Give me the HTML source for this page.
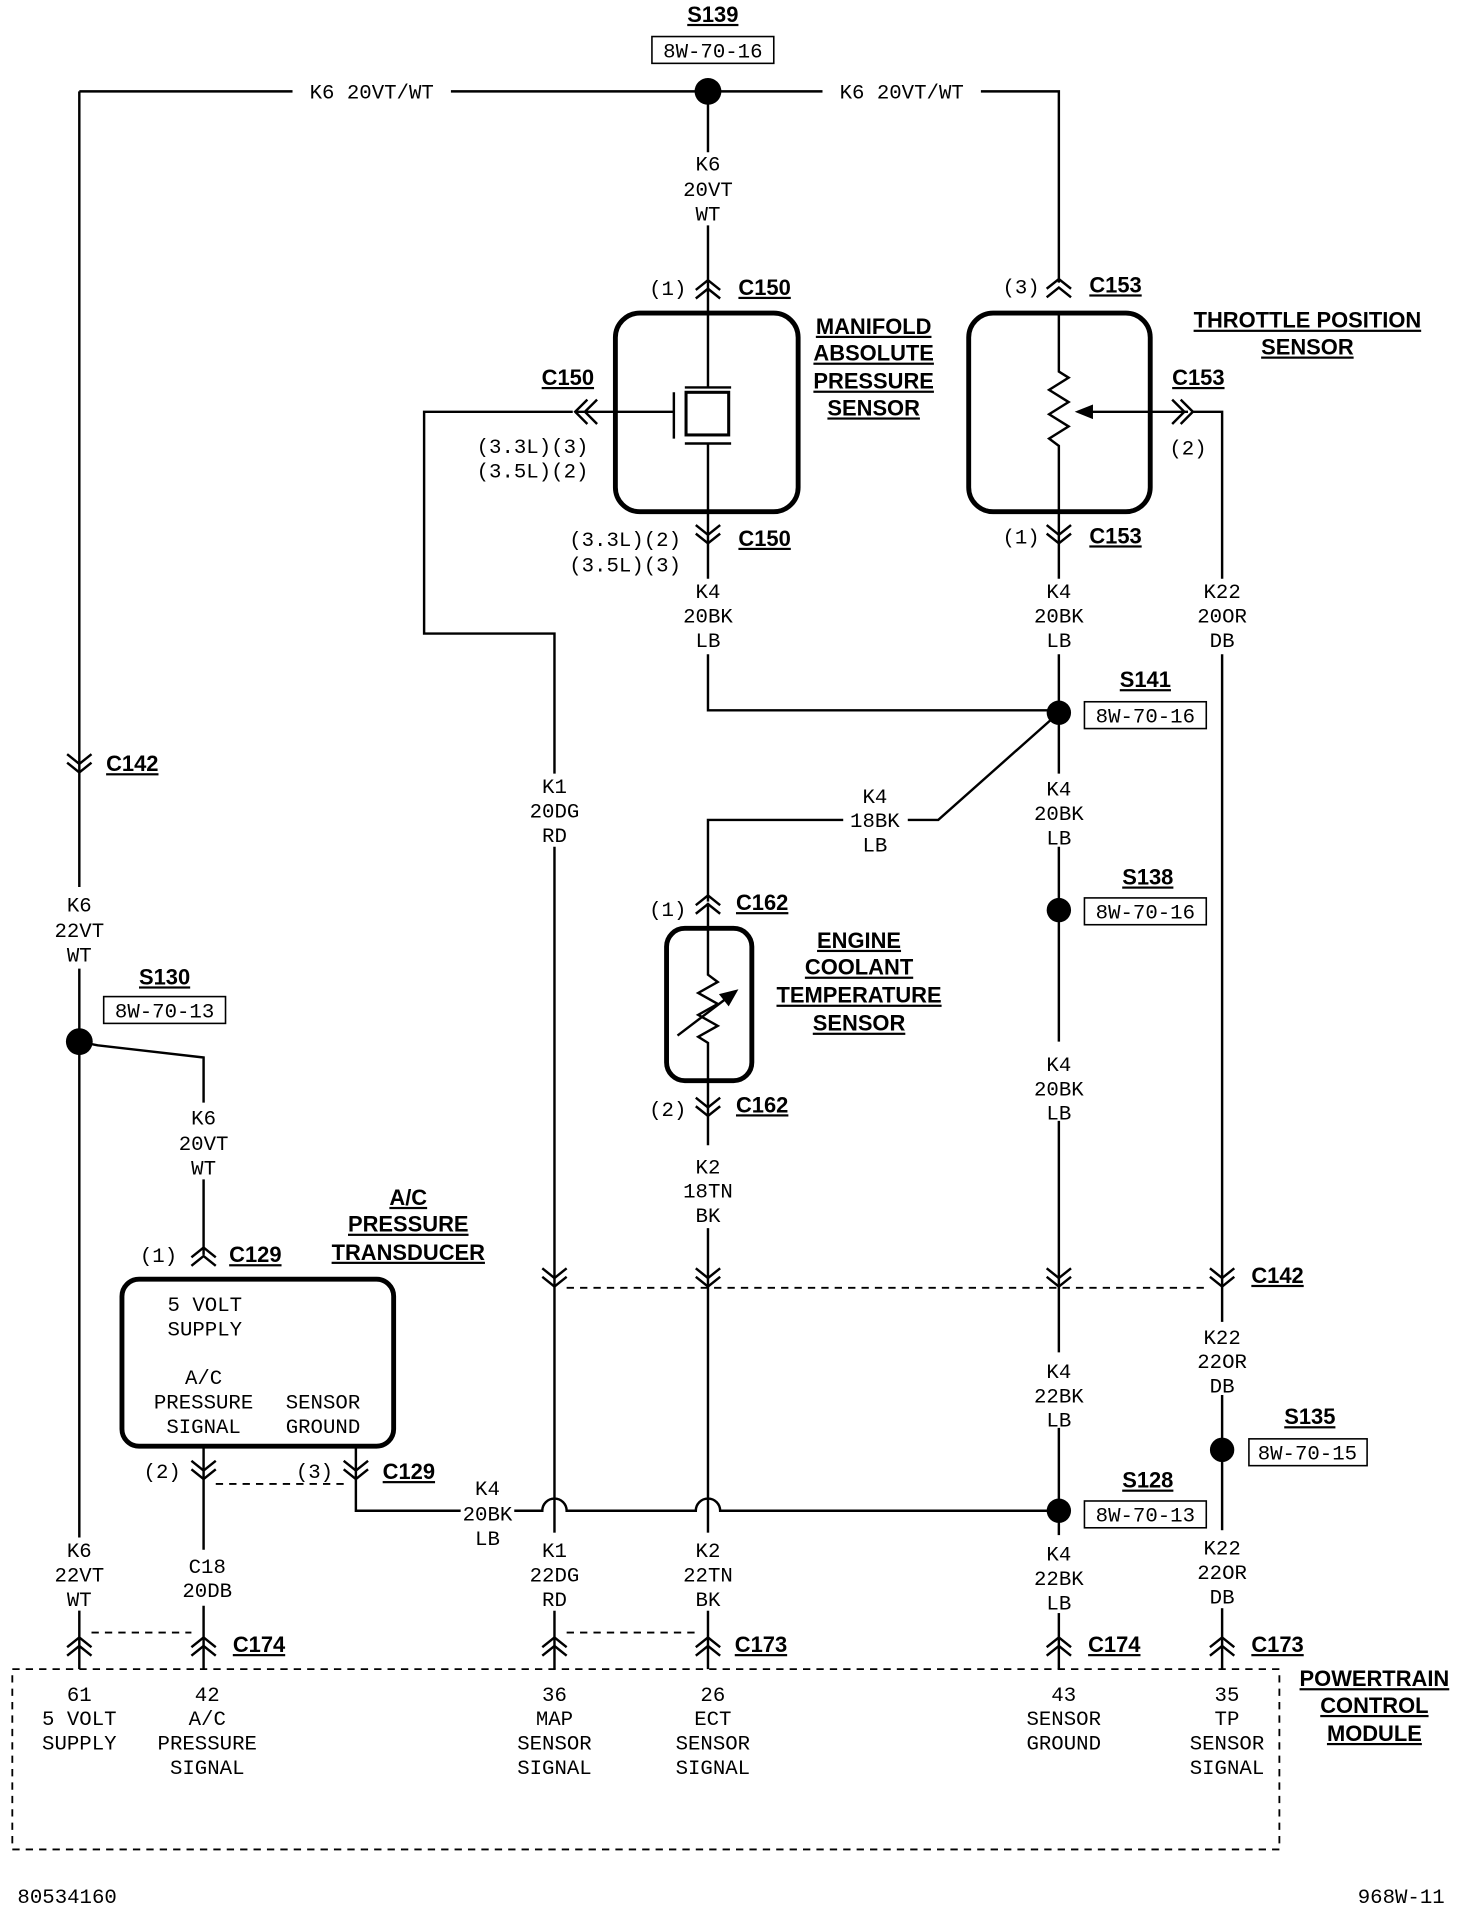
<!DOCTYPE html>
<html><head><meta charset="utf-8"><style>
html,body{margin:0;padding:0;background:#fff}
svg{display:block}
.t{font-family:"Liberation Mono",monospace;font-size:17px;fill:#000;text-anchor:middle}
.b{font-family:"Liberation Sans",sans-serif;font-weight:bold;font-size:18px;fill:#000;text-decoration:underline}
.bm{text-anchor:middle}
.w{stroke:#000;stroke-width:2;fill:none}
.k{stroke:#000;stroke-width:4;fill:none}
.d{stroke:#000;stroke-width:1.5;fill:none;stroke-dasharray:6,5}
.bx{fill:#fff;stroke:#000;stroke-width:1.3}
</style></head><body>
<svg width="1472" height="1914" viewBox="0 0 1208 1571" xmlns="http://www.w3.org/2000/svg">
<defs>
<path id="up" d="M-10,2 L0,-6 L10,2 M-10,9 L0,1 L10,9" stroke="#000" stroke-width="2" fill="none"/>
<path id="dn" d="M-10,-9 L0,-1 L10,-9 M-10,-2 L0,6 L10,-2" stroke="#000" stroke-width="2" fill="none"/>
</defs>

<!-- top wire -->
<path class="w" d="M65,75 H240 M370,75 H580 H675 M805,75 H869 V232"/>
<text class="t" x="305" y="81">K6 20VT/WT</text>
<text class="t" x="740" y="81">K6 20VT/WT</text>
<circle cx="581" cy="75" r="11"/>
<text class="b bm" x="585" y="18">S139</text>
<rect class="bx" x="535" y="30" width="100" height="22"/>
<text class="t" x="585" y="47">8W-70-16</text>

<!-- left wire -->
<path class="w" d="M65,75 V728 M65,795 V1262 M65,1322 V1370"/>
<use href="#dn" x="65" y="628"/>
<text class="b" x="87" y="633">C142</text>
<text class="t" x="65" y="748">K6</text><text class="t" x="65" y="769">22VT</text><text class="t" x="65" y="789">WT</text>
<circle cx="65" cy="855" r="11"/>
<text class="b bm" x="135" y="808">S130</text>
<rect class="bx" x="85" y="818" width="100" height="22"/>
<text class="t" x="135" y="835">8W-70-13</text>
<path class="w" d="M65,855 L80,858 L167,868 V905 M167,968 V1030"/>
<text class="t" x="167" y="923">K6</text><text class="t" x="167" y="944">20VT</text><text class="t" x="167" y="964">WT</text>
<use href="#up" x="167" y="1030"/>
<text class="t" x="130" y="1036">(1)</text>
<text class="b" x="188" y="1036">C129</text>
<text class="b bm" x="335" y="989">A/C</text>
<text class="b bm" x="335" y="1011">PRESSURE</text>
<text class="b bm" x="335" y="1034">TRANSDUCER</text>
<rect class="k" x="100" y="1050" width="223" height="137" rx="14"/>
<text class="t" x="168" y="1076">5 VOLT</text><text class="t" x="168" y="1096">SUPPLY</text>
<text class="t" x="167" y="1136">A/C</text><text class="t" x="167" y="1156">PRESSURE</text><text class="t" x="167" y="1176">SIGNAL</text>
<text class="t" x="265" y="1156">SENSOR</text><text class="t" x="265" y="1176">GROUND</text>
<path class="w" d="M167,1187 V1272 M167,1318 V1370 M292,1187 V1240 H378 M422,1240 H445 A10,10 0 0 1 465,1240 H571 A10,10 0 0 1 591,1240 H869"/>
<use href="#dn" x="167" y="1208"/><use href="#dn" x="292" y="1208"/>
<path class="d" d="M177,1218 H282"/>
<text class="t" x="133" y="1213">(2)</text><text class="t" x="258" y="1213">(3)</text>
<text class="b" x="314" y="1214">C129</text>
<text class="t" x="400" y="1227">K4</text><text class="t" x="400" y="1248">20BK</text><text class="t" x="400" y="1268">LB</text>
<text class="t" x="170" y="1291">C18</text><text class="t" x="170" y="1311">20DB</text>
<text class="t" x="65" y="1278">K6</text><text class="t" x="65" y="1298">22VT</text><text class="t" x="65" y="1318">WT</text>

<!-- MAP -->
<path class="w" d="M581,75 V125 M581,185 V318"/>
<text class="t" x="581" y="140">K6</text><text class="t" x="581" y="161">20VT</text><text class="t" x="581" y="181">WT</text>
<use href="#up" x="581" y="236"/>
<text class="t" x="548" y="242">(1)</text>
<text class="b" x="606" y="242">C150</text>
<rect class="k" x="505" y="257" width="150" height="163" rx="20"/>
<path class="w" d="M562,318 H600 M562,364 H600 M553,322 V360"/>
<rect x="563" y="322" width="35" height="35" fill="none" stroke="#000" stroke-width="2.5"/>
<path class="w" d="M581,364 V475"/>
<path class="w" d="M553,338 H472 M482,328 L472,338 L482,348 M490,328 L480,338 L490,348"/>
<text class="b bm" x="466" y="316">C150</text>
<text class="t" x="437" y="372">(3.3L)(3)</text><text class="t" x="437" y="392">(3.5L)(2)</text>
<path class="w" d="M470,338 H348 V520 H455 V635 M455,695 V1262 M455,1322 V1370"/>
<text class="b bm" x="717" y="274">MANIFOLD</text>
<text class="b bm" x="717" y="296">ABSOLUTE</text>
<text class="b bm" x="717" y="319">PRESSURE</text>
<text class="b bm" x="717" y="341">SENSOR</text>
<use href="#dn" x="581" y="440"/>
<text class="t" x="513" y="448">(3.3L)(2)</text><text class="t" x="513" y="469">(3.5L)(3)</text>
<text class="b" x="606" y="448">C150</text>
<text class="t" x="581" y="491">K4</text><text class="t" x="581" y="511">20BK</text><text class="t" x="581" y="531">LB</text>
<text class="t" x="455" y="651">K1</text><text class="t" x="455" y="671">20DG</text><text class="t" x="455" y="691">RD</text>
<path class="w" d="M581,537 V583 H869"/>

<!-- TPS -->
<use href="#up" x="869" y="235"/>
<text class="t" x="838" y="241">(3)</text>
<text class="b" x="894" y="240">C153</text>
<rect class="k" x="795" y="257" width="149" height="163" rx="20"/>
<path class="w" d="M869,257 V305 L877,310 L861,320 L877,330 L861,340 L877,350 L861,360 L869,366 V475"/>
<path class="w" d="M975,338 H895"/>
<path d="M882,338 L897,332 L897,344 Z"/>
<path class="w" d="M962,328 L972,338 L962,348 M969,328 L979,338 L969,348"/>
<text class="b" x="962" y="316">C153</text>
<text class="t" x="975" y="373">(2)</text>
<path class="w" d="M979,338 H1003 V475 M1003,537 V1370"/>
<text class="b bm" x="1073" y="269">THROTTLE POSITION</text>
<text class="b bm" x="1073" y="291">SENSOR</text>
<use href="#dn" x="869" y="440"/>
<text class="t" x="838" y="446">(1)</text>
<text class="b" x="894" y="446">C153</text>
<text class="t" x="869" y="491">K4</text><text class="t" x="869" y="511">20BK</text><text class="t" x="869" y="531">LB</text>
<text class="t" x="1003" y="491">K22</text><text class="t" x="1003" y="511">20OR</text><text class="t" x="1003" y="531">DB</text>
<path class="w" d="M869,537 V635 M869,695 V855 M869,920 V1110 M869,1172 V1262 M869,1322 V1370"/>
<circle cx="869" cy="585" r="10"/>
<text class="b bm" x="940" y="564">S141</text>
<rect class="bx" x="890" y="576" width="100" height="22"/>
<text class="t" x="940" y="593">8W-70-16</text>
<text class="t" x="869" y="653">K4</text><text class="t" x="869" y="673">20BK</text><text class="t" x="869" y="693">LB</text>
<circle cx="869" cy="747" r="10"/>
<text class="b bm" x="942" y="726">S138</text>
<rect class="bx" x="890" y="737" width="100" height="22"/>
<text class="t" x="940" y="754">8W-70-16</text>
<text class="t" x="869" y="879">K4</text><text class="t" x="869" y="899">20BK</text><text class="t" x="869" y="919">LB</text>

<!-- ECT -->
<path class="w" d="M869,585 L770,673 H745 M692,673 H581 V740"/>
<text class="t" x="718" y="659">K4</text><text class="t" x="718" y="679">18BK</text><text class="t" x="718" y="699">LB</text>
<use href="#up" x="581" y="741"/>
<text class="t" x="548" y="752">(1)</text>
<text class="b" x="604" y="747">C162</text>
<rect class="k" x="547" y="762" width="70" height="125" rx="15"/>
<path class="w" d="M581,741 V800 L589,806 L573,815 L589,824 L573,833 L589,842 L573,851 L581,856 V940"/>
<path class="w" d="M556,850 L598,818"/>
<path d="M606,812 L590,816 L598,826 Z"/>
<text class="b bm" x="705" y="778">ENGINE</text>
<text class="b bm" x="705" y="800">COOLANT</text>
<text class="b bm" x="705" y="823">TEMPERATURE</text>
<text class="b bm" x="705" y="846">SENSOR</text>
<use href="#dn" x="581" y="910"/>
<text class="t" x="548" y="916">(2)</text>
<text class="b" x="604" y="913">C162</text>
<text class="t" x="581" y="963">K2</text><text class="t" x="581" y="983">18TN</text><text class="t" x="581" y="1003">BK</text>
<path class="w" d="M581,1008 V1262 M581,1322 V1370"/>

<!-- C142 row -->
<use href="#dn" x="455" y="1050"/><use href="#dn" x="581" y="1050"/><use href="#dn" x="869" y="1050"/><use href="#dn" x="1003" y="1050"/>
<path class="d" d="M465,1057 H993"/>
<text class="b" x="1027" y="1053">C142</text>
<text class="t" x="869" y="1131">K4</text><text class="t" x="869" y="1151">22BK</text><text class="t" x="869" y="1171">LB</text>
<rect x="985" y="1085" width="36" height="60" fill="#fff"/>
<text class="t" x="1003" y="1103">K22</text><text class="t" x="1003" y="1123">22OR</text><text class="t" x="1003" y="1143">DB</text>
<circle cx="1003" cy="1190" r="10"/>
<text class="b bm" x="1075" y="1169">S135</text>
<rect class="bx" x="1025" y="1181" width="97" height="22"/>
<text class="t" x="1073" y="1198">8W-70-15</text>
<circle cx="869" cy="1240" r="10"/>
<text class="b bm" x="942" y="1221">S128</text>
<rect class="bx" x="890" y="1232" width="100" height="22"/>
<text class="t" x="940" y="1249">8W-70-13</text>

<rect x="435" y="1258" width="40" height="64" fill="#fff"/>
<rect x="561" y="1258" width="40" height="64" fill="#fff"/>
<rect x="849" y="1260" width="40" height="64" fill="#fff"/>
<rect x="983" y="1256" width="40" height="64" fill="#fff"/>
<text class="t" x="455" y="1278">K1</text><text class="t" x="455" y="1298">22DG</text><text class="t" x="455" y="1318">RD</text>
<text class="t" x="581" y="1278">K2</text><text class="t" x="581" y="1298">22TN</text><text class="t" x="581" y="1318">BK</text>
<text class="t" x="869" y="1281">K4</text><text class="t" x="869" y="1301">22BK</text><text class="t" x="869" y="1321">LB</text>
<text class="t" x="1003" y="1276">K22</text><text class="t" x="1003" y="1296">22OR</text><text class="t" x="1003" y="1316">DB</text>

<!-- bottom connectors -->
<use href="#up" x="65" y="1350"/><use href="#up" x="167" y="1350"/><use href="#up" x="455" y="1350"/><use href="#up" x="581" y="1350"/><use href="#up" x="869" y="1350"/><use href="#up" x="1003" y="1350"/>
<path class="d" d="M75,1340 H157 M465,1340 H571"/>
<text class="b" x="191" y="1356">C174</text>
<text class="b" x="603" y="1356">C173</text>
<text class="b" x="893" y="1356">C174</text>
<text class="b" x="1027" y="1356">C173</text>

<!-- PCM -->
<path class="d" d="M10,1370 H1050 V1518 H10 Z"/>
<text class="b bm" x="1128" y="1384">POWERTRAIN</text>
<text class="b bm" x="1128" y="1406">CONTROL</text>
<text class="b bm" x="1128" y="1429">MODULE</text>
<text class="t" x="65" y="1396">61</text><text class="t" x="65" y="1416">5 VOLT</text><text class="t" x="65" y="1436">SUPPLY</text>
<text class="t" x="170" y="1396">42</text><text class="t" x="170" y="1416">A/C</text><text class="t" x="170" y="1436">PRESSURE</text><text class="t" x="170" y="1456">SIGNAL</text>
<text class="t" x="455" y="1396">36</text><text class="t" x="455" y="1416">MAP</text><text class="t" x="455" y="1436">SENSOR</text><text class="t" x="455" y="1456">SIGNAL</text>
<text class="t" x="585" y="1396">26</text><text class="t" x="585" y="1416">ECT</text><text class="t" x="585" y="1436">SENSOR</text><text class="t" x="585" y="1456">SIGNAL</text>
<text class="t" x="873" y="1396">43</text><text class="t" x="873" y="1416">SENSOR</text><text class="t" x="873" y="1436">GROUND</text>
<text class="t" x="1007" y="1396">35</text><text class="t" x="1007" y="1416">TP</text><text class="t" x="1007" y="1436">SENSOR</text><text class="t" x="1007" y="1456">SIGNAL</text>

<text class="t" x="55" y="1562">80534160</text>
<text class="t" x="1150" y="1562">968W-11</text>
</svg>
</body></html>
